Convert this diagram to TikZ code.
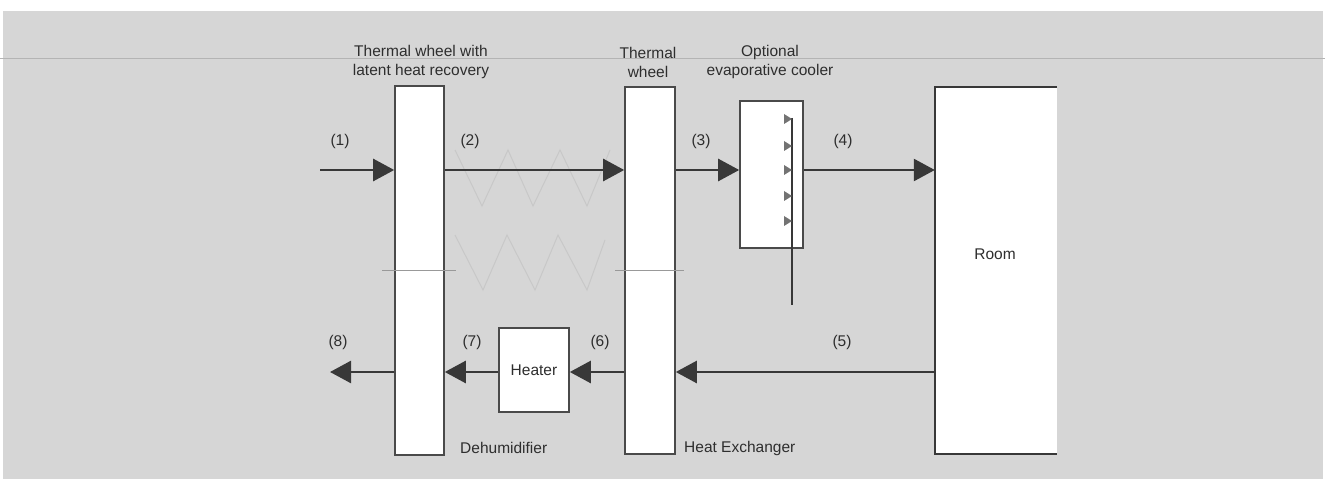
\documentclass[tikz,border=0pt]{standalone}
\usepackage{fontspec}
\setmainfont{Liberation Sans}
\usetikzlibrary{arrows.meta}
\definecolor{bg}{HTML}{D6D6D6}
\definecolor{ink}{HTML}{383838}
\definecolor{boxline}{HTML}{4A4A4A}
\definecolor{faint}{HTML}{C8C8C8}
\definecolor{scanline}{HTML}{B4B4B4}
\definecolor{txt}{HTML}{2E2E2E}
\tikzset{
  box/.style={draw=boxline, line width=1.6pt, fill=white, inner sep=0pt},
  flow/.style={draw=ink, line width=2.6pt, -{Triangle[length=21pt,width=22pt]}},
  lbl/.style={font=\fontsize{15.5}{19}\selectfont, text=txt, inner sep=0pt},
  divider/.style={draw=gray!80, line width=0.8pt},
  nozzle/.style={fill=gray!90!black, draw=none},
}
\begin{document}
\begin{tikzpicture}[x=1pt,y=-1pt]
\useasboundingbox (0,0) rectangle (1325,481);
% background
\fill[white] (0,0) rectangle (1325,481);
\fill[bg] (3,11) rectangle (1323,479);
\draw[scanline, line width=0.8pt] (0,58) -- (1325,58);
% faint zigzags
\draw[faint, line width=1pt] (455,150) -- (482,206) -- (508,150) -- (533,206) -- (560,150) -- (587,206) -- (610,150);
\draw[faint, line width=1pt] (455,235) -- (483,290) -- (507,235) -- (535,290) -- (558,235) -- (587,290) -- (605,240);
% boxes
\node[box, minimum width=49pt, minimum height=369pt] (w1) at (419.5,270.5) {};
\node[box, minimum width=50pt, minimum height=367pt] (w2) at (650,270.5) {};
\node[box, minimum width=63pt, minimum height=147pt] (evap) at (771.5,174.5) {};
\node[box, minimum width=70pt, minimum height=84pt, lbl] (heater) at (534,370) {Heater};
\node[fill=white, inner sep=0pt, minimum width=122pt, minimum height=367pt] (room) at (996,270.5) {};
\draw[draw=ink, line width=2.2pt] (room.north east) -- (room.north west) -- (room.south west) -- (room.south east);
\node[lbl] (roomlbl) at (995,254) {Room};
% dividers
\draw[divider] ([xshift=-12pt]w1.west |- 0,270) -- ([xshift=11pt]w1.east |- 0,270);
\draw[divider] ([xshift=-9pt]w2.west |- 0,270) -- ([xshift=8pt]w2.east |- 0,270);
% evaporative cooler spray bar
\coordinate (spt) at (792,118);
\coordinate (spb) at (792,305);
\draw[ink, line width=2.4pt] (spt) -- (spb);
\foreach \yy in {119,146,170,196,221}{
  \fill[nozzle] (784,\yy-5) -- (792,\yy) -- (784,\yy+5) -- cycle;
}
% top flow
\coordinate (top) at (0,170);
\coordinate (in) at (320,170);
\draw[flow] (in) -- (w1.west |- top);
\draw[flow] (w1.east |- top) -- (w2.west |- top);
\draw[flow] (w2.east |- top) -- (evap.west |- top);
\draw[flow] (evap.east |- top) -- (room.west |- top);
% bottom flow
\coordinate (bot) at (0,372);
\coordinate (out) at (330,372);
\draw[flow] (room.west |- bot) -- (w2.east |- bot);
\draw[flow] (w2.west |- bot) -- (heater.east |- bot);
\draw[flow] (heater.west |- bot) -- (w1.east |- bot);
\draw[flow] (w1.west |- bot) -- (out);
% flow labels
\node[lbl] (l1) at (340,141) {(1)};
\node[lbl] (l2) at (470,141) {(2)};
\node[lbl] (l3) at (701,141) {(3)};
\node[lbl] (l4) at (843,141) {(4)};
\node[lbl] (l5) at (842,342) {(5)};
\node[lbl] (l6) at (600,342) {(6)};
\node[lbl] (l7) at (472,342) {(7)};
\node[lbl] (l8) at (338,342) {(8)};
% titles
\node[lbl, align=center] (t1) at (421,62) {Thermal wheel with\\latent heat recovery};
\node[lbl, align=center] (t2) at (648,62) {Thermal\\wheel};
\node[lbl, align=center] (t3) at (770,62) {Optional\\evaporative cooler};
\node[lbl, anchor=west] (t4) at (460,448) {Dehumidifier};
\node[lbl, anchor=west] (t5) at (684,448) {Heat Exchanger};
\end{tikzpicture}
\end{document}
